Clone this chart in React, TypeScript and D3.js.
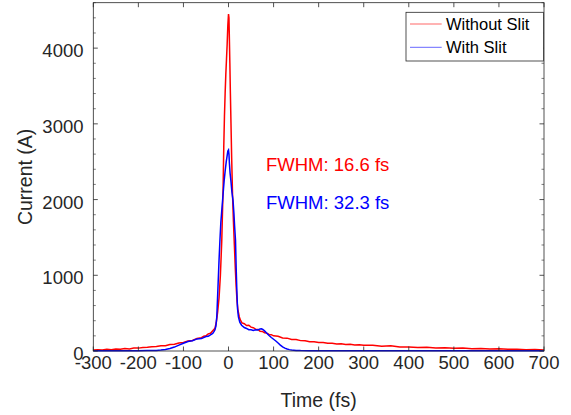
import React from "react";
import * as d3 from "d3";

const xTicks = [-300, -200, -100, 0, 100, 200, 300, 400, 500, 600, 700];
const yTicks = [0, 1000, 2000, 3000, 4000];
const seriesNames = ["Without Slit", "With Slit"];
const seriesColors = ["#ff0000", "#0000ff"];
const fwhmLabels = ["FWHM: 16.6 fs", "FWHM: 32.3 fs"];

const redT = [-300,-290,-280,-270,-260,-250,-240,-230,-220,-210,-200,-190,-180,-170,-160,-150,-140,-130,-120,-110,-100,-90,-80,-70,-60,-55,-50,-45,-40,-35,-30,-27,-24,-21,-18,-15,-12,-10.5,-9,-7.5,-6,-4.5,-3,-1.5,0,1,2,3,4,5.5,7,9,11,13,15,17,19,21,24,27,30,35,40,45,50,55,60,65,70,75,80,85,90,95,100,110,120,130,140,150,160,170,180,190,200,210,220,230,240,250,260,270,280,290,300,320,340,360,380,400,420,440,460,480,500,520,540,560,580,600,620,640,660,680,700];
const redV = [14,18,13,22,17,27,22,32,27,38,38,45,48,55,58,69,70,85,88,106,112,132,138,164,176,195,200,226,234,268,300,380,520,700,1000,1450,2150,2700,3100,3400,3650,3850,4050,4300,4450,4400,4100,3800,3450,3000,2550,2050,1700,1400,1100,850,650,540,450,400,372,360,336,340,315,308,289,284,262,259,241,236,218,216,200,194,172,170,152,151,137,135,122,123,111,113,101,103,93,96,86,88,79,83,75,75,64,70,53,53,45,48,40,43,35,38,30,34,25,29,22,24,17,20,12];

const blueT = [-300,-280,-260,-240,-220,-200,-180,-170,-160,-150,-140,-130,-120,-110,-100,-90,-80,-70,-60,-50,-45,-40,-35,-32,-30,-28,-26,-25,-24,-23,-22,-21,-19,-17,-15,-13,-11,-9.5,-7,-5,-3,-1.5,0,1,2,3.5,5.3,7.5,10,12,13.5,15.5,17,18.5,20,22,25,29,35,40,45,50,55,60,65,70,73,76,80,85,90,95,100,105,110,115,120,125,130,135,140,150,160,180,200,250,300,400,500,600,700];
const blueV = [3,3,4,3,4,4,5,6,8,12,20,34,52,78,102,126,136,160,164,192,194,214,232,258,280,330,450,600,750,900,1050,1200,1466,1700,1850,2000,2150,2260,2400,2500,2580,2640,2655,2600,2480,2350,2250,2100,1990,1820,1650,1466,1100,800,560,450,380,340,310,298,282,280,272,279,278,292,294,284,266,235,205,178,155,132,105,78,55,38,26,18,12,7,5,4,3,3,2,2,2,2,2];

const W = 571, H = 415;
const left = 93.3, right = 544, top = 2.7, bottom = 351;
const axisColor = "#262626";
const font = "'Liberation Sans', Arial, sans-serif";

export default function App() {
  const x = d3.scaleLinear().domain([-300, 700]).range([left, right]);
  const y = d3.scaleLinear().domain([0, 4600]).range([bottom, top]);
  const line = d3.line<[number, number]>().x(d => x(d[0])).y(d => y(d[1]));
  const redPts = redT.map((t, i) => [t, redV[i]] as [number, number]);
  const bluePts = blueT.map((t, i) => [t, blueV[i]] as [number, number]);
  const minorY = d3.range(0, 4601, 200).filter(v => v % 1000 !== 0);

  return (
    <svg width={W} height={H} style={{ position: "absolute", left: 0, top: 0, background: "#fff" }} fontFamily={font}>
      <rect x={0} y={0} width={W} height={H} fill="#fff" />
      <path d={line(redPts) || ""} fill="none" stroke={seriesColors[0]} strokeWidth={1.5} />
      <path d={line(bluePts) || ""} fill="none" stroke={seriesColors[1]} strokeWidth={1.5} />
      <rect x={left} y={top} width={right - left} height={bottom - top} fill="none" stroke={axisColor} strokeWidth={0.8} />
      {xTicks.map(t => (
        <g key={"xt" + t}>
          <line x1={x(t)} x2={x(t)} y1={bottom} y2={bottom - 4.5} stroke={axisColor} strokeWidth={0.8} />
          <line x1={x(t)} x2={x(t)} y1={top} y2={top + 4.5} stroke={axisColor} strokeWidth={0.8} />
          <text x={x(t)} y={369} textAnchor="middle" fontSize={18.5} fill={axisColor}>{t}</text>
        </g>
      ))}
      {yTicks.map(v => (
        <g key={"yt" + v}>
          <line x1={left} x2={left + 4.5} y1={y(v)} y2={y(v)} stroke={axisColor} strokeWidth={0.8} />
          <line x1={right} x2={right - 4.5} y1={y(v)} y2={y(v)} stroke={axisColor} strokeWidth={0.8} />
          <text x={83.5} y={y(v) + 9} textAnchor="end" fontSize={18.5} fill={axisColor}>{v}</text>
        </g>
      ))}
      {minorY.map(v => (
        <g key={"ym" + v}>
          <line x1={left} x2={left + 2.5} y1={y(v)} y2={y(v)} stroke={axisColor} strokeWidth={0.6} />
          <line x1={right} x2={right - 2.5} y1={y(v)} y2={y(v)} stroke={axisColor} strokeWidth={0.6} />
        </g>
      ))}
      <text x={(left + right) / 2} y={407} textAnchor="middle" fontSize={19.5} fill={axisColor}>Time (fs)</text>
      <text transform={`translate(32, ${(top + bottom) / 2}) rotate(-90)`} textAnchor="middle" fontSize={19.5} fill={axisColor}>Current (A)</text>
      <text x={266} y={171} fontSize={18.5} fill={seriesColors[0]}>{fwhmLabels[0]}</text>
      <text x={266} y={209} fontSize={18.5} fill={seriesColors[1]}>{fwhmLabels[1]}</text>
      <rect x={406} y={12.3} width={137.5} height={48.7} fill="#fff" stroke={axisColor} strokeWidth={0.8} />
      {seriesNames.map((n, i) => (
        <g key={n}>
          <line x1={410} x2={441.7} y1={24 + i * 23.3} y2={24 + i * 23.3} stroke={seriesColors[i]} strokeWidth={0.6} />
          <text x={446} y={24 + i * 23.3 + 5.8} fontSize={16.5} fill="#000">{n}</text>
        </g>
      ))}
    </svg>
  );
}
